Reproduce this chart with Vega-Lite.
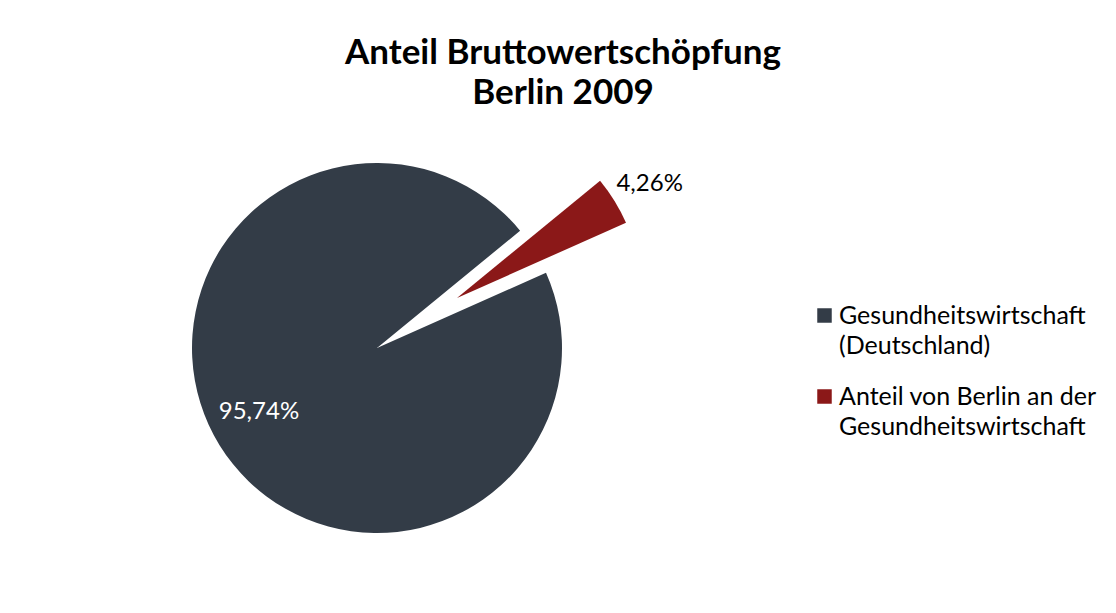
{
  "$schema": "https://vega.github.io/schema/vega-lite/v6.json",
  "autosize": {"type": "none"},
  "width": 400,
  "height": 400,
  "padding": {"left": 177, "top": 148, "right": 539, "bottom": 65},
  "background": "white",
  "config": {
    "view": {"stroke": null},
    "locale": {"number": {"decimal": ",", "thousands": ".", "grouping": [3], "currency": ["", " €"]}},
    "font": "Lato",
    "style": {"guide-label": {"lineHeight": 30}},
    "legend": {
      "labelFont": "Lato",
      "labelFontSize": 25,
      "labelColor": "#000000",
      "labelLimit": 0,
      "labelBaseline": "middle",
      "labelOffset": 2,
      "symbolType": "square",
      "symbolSize": 210,
      "symbolStrokeWidth": 0,
      "rowPadding": 25,
      "padding": 0
    }
  },
  "title": {
    "text": ["Anteil Bruttowertschöpfung", "Berlin 2009"],
    "font": "Lato",
    "fontSize": 35,
    "fontWeight": "bold",
    "color": "#000000",
    "lineHeight": 40,
    "anchor": "middle",
    "dx": 186,
    "offset": 2
  },
  "data": {
    "values": [
      {"category": "Gesundheitswirtschaft (Deutschland)", "share": 0.9574},
      {"category": "Anteil von Berlin an der Gesundheitswirtschaft", "share": 0.0426}
    ]
  },
  "encoding": {
    "theta": {"field": "share", "type": "quantitative", "stack": true, "scale": {"domain": [0, 1], "range": [1.1519, 7.4351]}},
    "order": {"field": "category", "sort": "descending"},
    "color": {
      "field": "category",
      "type": "nominal",
      "scale": {
        "domain": ["Gesundheitswirtschaft (Deutschland)", "Anteil von Berlin an der Gesundheitswirtschaft"],
        "range": ["#333C47", "#8B1818"]
      },
      "legend": {
        "title": null,
        "orient": "none",
        "legendX": 635,
        "legendY": 155,
        "labelExpr": "datum.label == 'Gesundheitswirtschaft (Deutschland)' ? ['Gesundheitswirtschaft', '(Deutschland)'] : ['Anteil von Berlin an der', 'Gesundheitswirtschaft']"
      }
    }
  },
  "layer": [
    {
      "mark": {"type": "arc", "outerRadius": 185},
      "encoding": {
        "opacity": {"condition": {"test": "datum.category == 'Gesundheitswirtschaft (Deutschland)'", "value": 1}, "value": 0}
      }
    },
    {
      "mark": {"type": "arc", "outerRadius": 185, "xOffset": 80, "yOffset": -50},
      "encoding": {
        "opacity": {"condition": {"test": "datum.category != 'Gesundheitswirtschaft (Deutschland)'", "value": 1}, "value": 0}
      }
    },
    {
      "mark": {"type": "text", "radius": 134, "dx": -4, "dy": -6, "fontSize": 24, "font": "Lato", "fill": "white"},
      "encoding": {
        "text": {"field": "share", "type": "quantitative", "format": ".2%"},
        "color": {"value": "white"},
        "opacity": {"condition": {"test": "datum.category == 'Gesundheitswirtschaft (Deutschland)'", "value": 1}, "value": 0}
      }
    },
    {
      "mark": {"type": "text", "radius": 224, "xOffset": 80, "yOffset": -50, "dx": 2, "dy": 4, "fontSize": 24, "font": "Lato"},
      "encoding": {
        "text": {"field": "share", "type": "quantitative", "format": ".2%"},
        "color": {"value": "black"},
        "opacity": {"condition": {"test": "datum.category != 'Gesundheitswirtschaft (Deutschland)'", "value": 1}, "value": 0}
      }
    }
  ]
}
